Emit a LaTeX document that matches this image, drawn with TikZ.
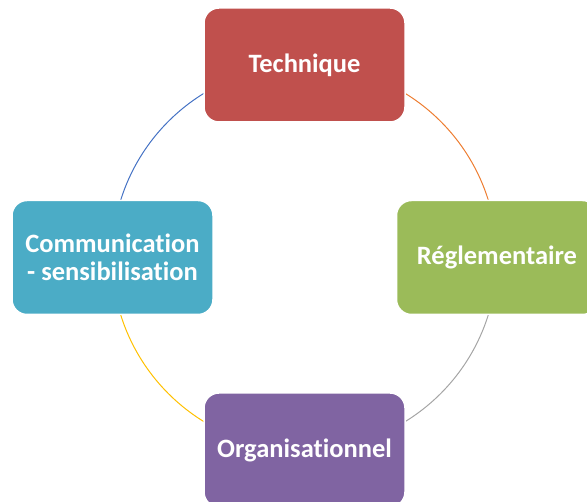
\documentclass[tikz,border=0pt]{standalone}
\usepackage{fontspec}
\setmainfont{Carlito}[Ligatures=NoCommon]
\definecolor{cred}{HTML}{C0504D}
\definecolor{cgreen}{HTML}{9BBB59}
\definecolor{cpurple}{HTML}{8064A2}
\definecolor{cteal}{HTML}{4BACC6}
\definecolor{ablue}{HTML}{4472C4}
\definecolor{aorange}{HTML}{ED7D31}
\definecolor{agray}{HTML}{A5A5A5}
\definecolor{ayellow}{HTML}{FFC000}
\tikzset{
  box/.style={rectangle, rounded corners=15pt, minimum width=201pt, minimum height=114pt,
    draw=white, line width=1.5pt, text=white, align=center,
    font=\fontsize{26.5}{28}\selectfont\bfseries, inner sep=0pt},
  link/.style={line width=1pt}
}
\begin{document}
\begin{tikzpicture}[x=1pt,y=1pt]
\useasboundingbox (0,0) rectangle (587,502);
\begin{scope}
\clip (0,0) rectangle (587,502);
\coordinate (tc) at (304.5,437);
\coordinate (rc) at (497,244.5);
\coordinate (oc) at (304.5,52);
\coordinate (cc) at (112.5,244.5);
\draw[link, ablue] (tc) arc[start angle=90, end angle=180, radius=192.5];
\draw[link, aorange] (tc) arc[start angle=90, end angle=0, radius=192.5];
\draw[link, agray] (rc) arc[start angle=0, end angle=-90, radius=192.5];
\draw[link, ayellow] (oc) arc[start angle=-90, end angle=-180, radius=192.5];
\node[box, fill=cred] (tech) at (tc) {Technique};
\node[box, fill=cgreen] (regl) at (rc) {Réglementaire};
\node[box, fill=cpurple] (orga) at (oc) {Organisationnel};
\node[box, fill=cteal] (comm) at (cc) {Communication\\- sensibilisation};
\end{scope}
\end{tikzpicture}
\end{document}
